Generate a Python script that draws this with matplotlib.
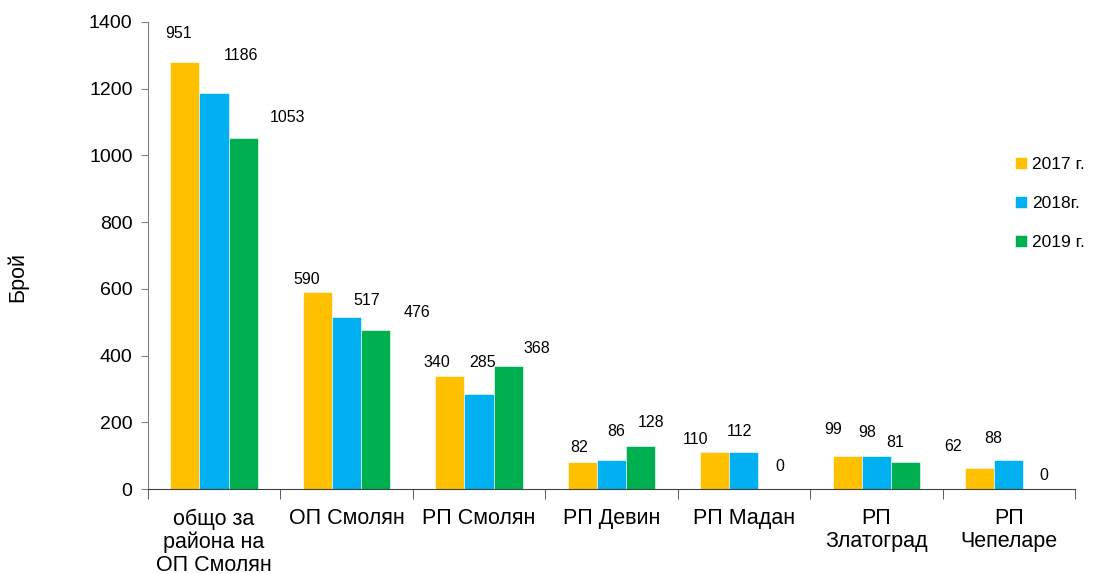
import matplotlib.pyplot as plt
import numpy as np

plt.rcParams['font.family'] = ['Liberation Sans', 'DejaVu Sans']

categories = ['общо за\nрайона на\nОП Смолян', 'ОП Смолян', 'РП Смолян', 'РП Девин',
              'РП Мадан', 'РП\nЗлатоград', 'РП\nЧепеларе']
series = ['2017 г.', '2018г.', '2019 г.']
values_2017 = [1280, 590, 340, 82, 110, 99, 62]
values_2018 = [1186, 517, 285, 86, 112, 98, 88]
values_2019 = [1053, 476, 368, 128, 0, 81, 0]
labels_2017 = ['951', '590', '340', '82', '110', '99', '62']
labels_2018 = ['1186', '517', '285', '86', '112', '98', '88']
labels_2019 = ['1053', '476', '368', '128', '0', '81', '0']
colors = ['#FFC000', '#00B0F0', '#00B050']

# label nudges in pixels (dx, dy above bar top), placed by hand in the original
nudge_x = [[-6, -11, -13, -3, -19, -14, -27],
           [27, 20, 4, 5, -4, -9, -16],
           [44, 41, 29, 11, 7, -10, 6]]
nudge_y = [[29, 13, 13, 14, 13, 27, 22],
           [38, 16, 31, 29, 20, 24, 21],
           [20, 18, 18, 24, 23, 20, 14]]

fig = plt.figure(figsize=(11.03, 5.74), dpi=100)
ax = fig.add_axes([0.134, 0.148, 0.8406, 0.8137])

x = np.arange(len(categories))
w = 0.22
all_vals = [values_2017, values_2018, values_2019]
all_labels = [labels_2017, labels_2018, labels_2019]
for i, (vals, labs) in enumerate(zip(all_vals, all_labels)):
    pos = x + (i - 1) * w
    ax.bar(pos, vals, width=w, color=colors[i], label=series[i],
           edgecolor='white', linewidth=0.4)
    for j in range(len(vals)):
        ax.annotate(labs[j], (pos[j], vals[j]), xytext=(nudge_x[i][j], nudge_y[i][j]),
                    textcoords='offset pixels', ha='center', va='center', fontsize=11.5)

ax.set_xlim(-0.5, len(categories) - 0.5)
ax.set_ylim(0, 1400)
ax.set_yticks(np.arange(0, 1401, 200))
ax.set_xticks(x)
ax.set_xticklabels(categories, fontsize=15.5, linespacing=1.1)
ax.set_xticks(np.arange(-0.5, len(categories)), minor=True)
ax.tick_params(axis='x', which='major', length=0, pad=14)
ax.tick_params(axis='x', which='minor', length=7, color='#404040', direction='out')
ax.tick_params(axis='y', labelsize=14, length=5, color='#808080', pad=6)

for s in ['top', 'right']:
    ax.spines[s].set_visible(False)
ax.spines['left'].set_color('#808080')
ax.spines['bottom'].set_color('#404040')

fig.text(18 / 1103, 1 - 277 / 574, 'Брой', rotation=90, ha='center', va='center', fontsize=15.5)

ax.legend(loc='upper left', bbox_to_anchor=(0.918, 0.745), frameon=False, fontsize=12.5,
          handlelength=0.7, handleheight=0.7, handletextpad=0.3, labelspacing=1.38)

fig.savefig('out.png', dpi=100)
